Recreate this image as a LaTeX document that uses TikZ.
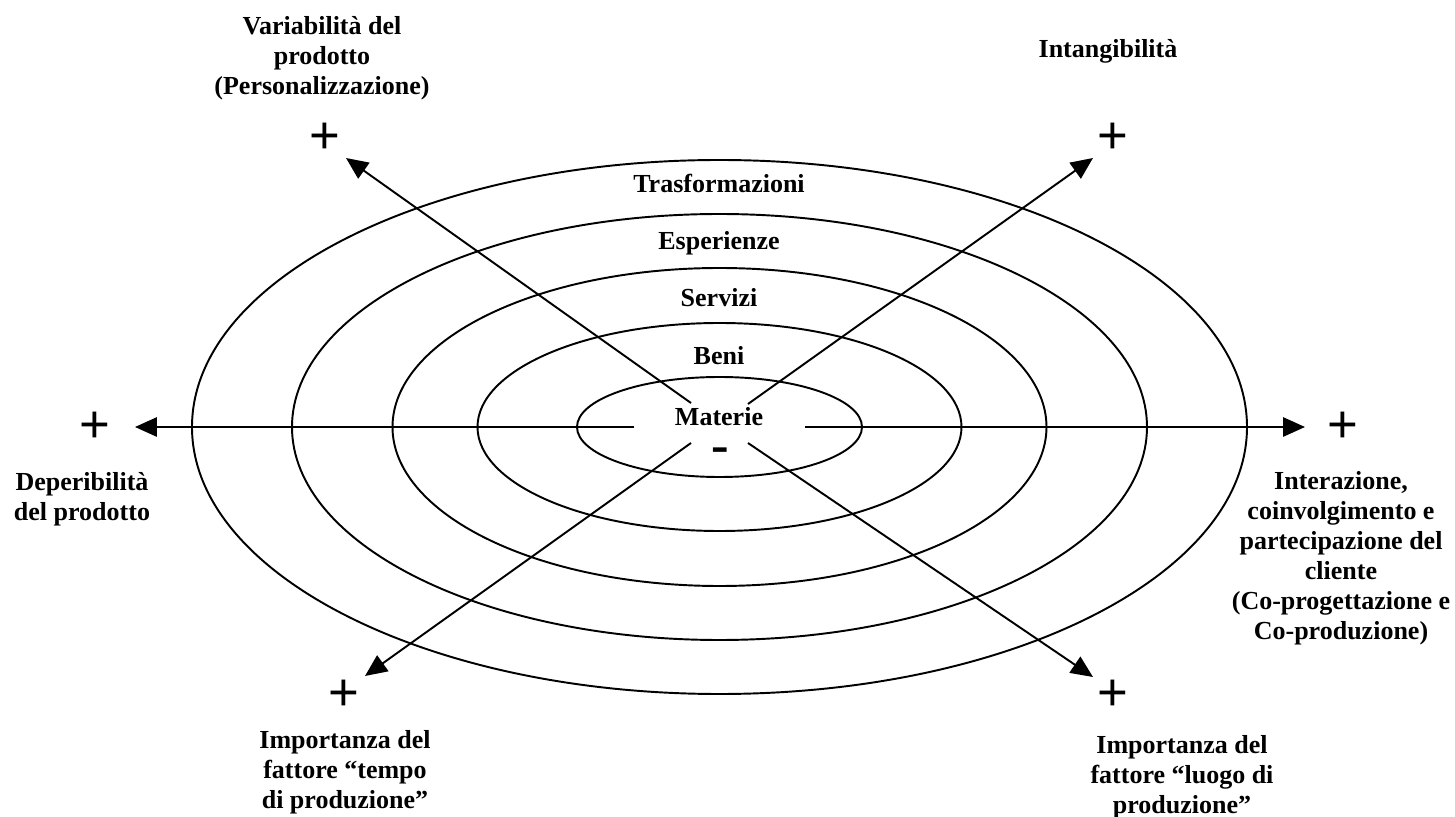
\documentclass[tikz,border=0pt]{standalone}
\usepackage{fontspec}
\setmainfont{Liberation Serif}
\newfontfamily\plusfont{Liberation Sans}
\usetikzlibrary{arrows.meta}

\begin{document}
\begin{tikzpicture}[x=0.02cm, y=-0.02cm,
  ring/.style={line width=1.1pt},
  axis/.style={line width=1.1pt, -{Triangle[length=12.5pt, width=11pt]}},
  lbl/.style={font=\fontsize{14.8}{17.1}\selectfont\bfseries, align=center, inner sep=0pt},
  sign/.style={font=\plusfont\fontsize{30}{30}\selectfont, inner sep=0pt}]
  \useasboundingbox (0,0) rectangle (1455,817);

  % Rings
  \coordinate (ctr) at (719.5,427);
  \foreach \a/\b in {527.5/267, 427.5/213, 327/159, 242/104, 142.5/50}
    \draw[ring] (ctr) ellipse [x radius=\a*0.02cm, y radius=\b*0.02cm];

  % Ring labels
  \node[lbl, anchor=base] (trasf) at (719,193) {Trasformazioni};
  \node[lbl, anchor=base] (esper) at (719,250) {Esperienze};
  \node[lbl, anchor=base] (serv)  at (719,307) {Servizi};
  \node[lbl, anchor=base] (beni)  at (719,365) {Beni};
  \node[lbl, anchor=base] (mat)   at (719,426) {Materie};
  \node[font=\fontsize{30}{30}\selectfont\bfseries, inner sep=0pt] (minus) at (720,455) {-};

  % Axes: start and tip points
  \coordinate (sDep) at (634,427);  \coordinate (tDep) at (135,427);
  \coordinate (sCli) at (805,427);  \coordinate (tCli) at (1305,427);
  \coordinate (sVar) at (691,403);  \coordinate (tVar) at (346,158);
  \coordinate (sInt) at (748,404);  \coordinate (tInt) at (1093,158);
  \coordinate (sTem) at (691,443);  \coordinate (tTem) at (365,676);
  \coordinate (sLuo) at (748,443);  \coordinate (tLuo) at (1093,677);

  \draw[axis] (sDep) -- (tDep);
  \draw[axis] (sCli) -- (tCli);
  \draw[axis] (sVar) -- (tVar);
  \draw[axis] (sInt) -- (tInt);
  \draw[axis] (sTem) -- (tTem);
  \draw[axis] (sLuo) -- (tLuo);

  % Plus signs
  \node[sign] (pDep) at (95,427)   {+};
  \node[sign] (pCli) at (1343,427) {+};
  \node[sign] (pVar) at (325,138)  {+};
  \node[sign] (pInt) at (1113,138) {+};
  \node[sign] (pTem) at (344,695)  {+};
  \node[sign] (pLuo) at (1113,695) {+};

  % Axis labels
  \node[lbl] (var) at (322,58) {Variabilità del\\prodotto\\(Personalizzazione)};
  \node[lbl, anchor=base] (intang) at (1108,58) {Intangibilità};
  \node[lbl] (deper) at (82,499) {Deperibilità\\del prodotto};
  \node[lbl] (cliente) at (1341,558) {Interazione,\\coinvolgimento e\\partecipazione del\\cliente\\(Co-progettazione e\\Co-produzione)};
  \node[lbl] (tempo) at (345,772) {Importanza del\\fattore “tempo\\di produzione”};
  \node[lbl] (luogo) at (1182,777) {Importanza del\\fattore “luogo di\\produzione”};
\end{tikzpicture}
\end{document}
